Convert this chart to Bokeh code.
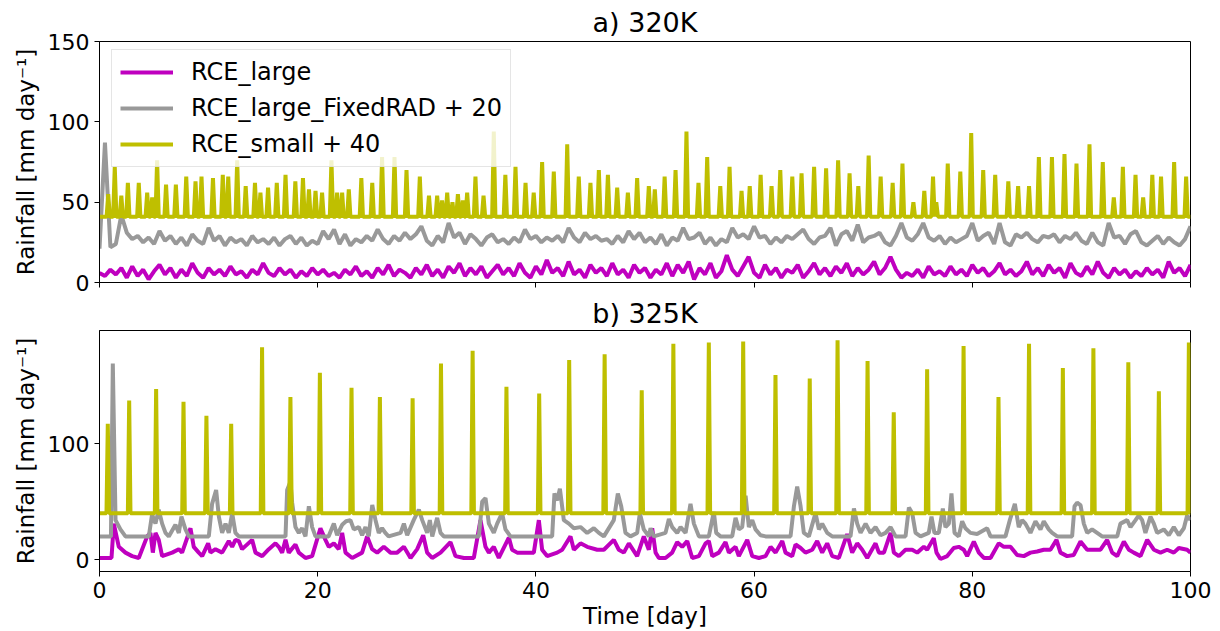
from bokeh.plotting import figure
from bokeh.layouts import column
from bokeh.models import Range1d, FixedTicker, Legend, LegendItem
from bokeh.embed import file_html
from bokeh.resources import INLINE

FONT = "DejaVu Sans"
MAGENTA = "#bf00bf"
GRAY = "#999999"
OLIVE = "#bfbf00"

# ---------------- panel a) 320K ----------------
# RCE_large, sampled every 0.5 day from day 0 to 100
large_a_step = 0.5
large_a = [
    6, 4, 8, 5, 9, 3, 10, 4, 8, 2,
    7, 11, 5, 9, 3, 8, 4, 12, 6, 3,
    9, 5, 8, 4, 10, 5, 7, 3, 8, 5,
    12, 6, 4, 9, 5, 8, 3, 7, 4, 9,
    5, 8, 4, 6, 3, 8, 5, 10, 4, 7,
    3, 9, 5, 11, 4, 8, 6, 3, 9, 5,
    11, 4, 8, 3, 10, 6, 12, 4, 9, 5,
    10, 3, 7, 11, 5, 9, 4, 12, 6, 3,
    10, 5, 14, 6, 9, 4, 13, 5, 8, 3,
    11, 6, 9, 4, 12, 5, 8, 3, 11, 6,
    9, 3, 8, 5, 12, 4, 11, 6, 13, 2,
    9, 5, 12, 3, 7, 17, 8, 4, 10, 16,
    6, 3, 11, 5, 9, 3, 8, 6, 11, 3,
    7, 12, 5, 9, 4, 10, 6, 12, 4, 9,
    5, 8, 13, 5, 9, 16, 8, 3, 6, 4,
    8, 3, 10, 5, 7, 4, 10, 5, 8, 4,
    11, 6, 9, 4, 7, 12, 5, 8, 4, 7,
    13, 5, 9, 4, 11, 6, 9, 3, 12, 6,
    4, 10, 5, 13, 6, 3, 9, 5, 8, 3,
    7, 4, 9, 5, 8, 3, 13, 6, 9, 4,
    11,
]
# RCE_large_FixedRAD + 20, sampled every 0.5 day
fixed_a = [
    21, 87, 22, 24, 42, 31, 27, 29, 25, 28,
    24, 32, 26, 29, 24, 28, 23, 30, 26, 24,
    34, 26, 29, 23, 28, 25, 27, 23, 29, 25,
    27, 24, 28, 23, 27, 29, 24, 28, 23, 26,
    24, 32, 27, 33, 24, 30, 23, 27, 25, 29,
    26, 33, 27, 24, 29, 26, 31, 27, 30, 35,
    26, 23, 29, 25, 37, 28, 31, 24, 30, 27,
    23, 28, 30, 25, 27, 24, 28, 25, 33, 27,
    29, 25, 28, 26, 29, 25, 34, 28, 25, 31,
    27, 29, 26, 27, 24, 29, 25, 32, 27, 31,
    25, 28, 24, 30, 23, 28, 26, 34, 27, 28,
    31, 24, 28, 23, 27, 25, 34, 28, 30, 27,
    35, 28, 29, 24, 28, 25, 29, 27, 30, 33,
    27, 24, 28, 29, 34, 23, 30, 32, 26, 36,
    25, 28, 29, 31, 25, 23, 29, 37, 28, 26,
    30, 37, 28, 26, 29, 24, 28, 25, 27, 29,
    37, 26, 29, 31, 24, 37, 25, 23, 30, 28,
    31, 27, 25, 29, 28, 30, 25, 29, 27, 31,
    26, 24, 31, 25, 23, 37, 28, 29, 24, 30,
    32, 25, 23, 26, 29, 24, 28, 25, 23, 27,
    35,
]
# RCE_small + 40: quiet level and the rain bursts (day, peak)
small_a_base = 41
small_a_day = [
    0.8, 1.4, 2.0, 2.6, 3.6, 4.37, 4.83, 5.28, 6.1, 7.0, 7.95, 8.8, 9.35, 10.4,
    11.3, 11.8, 12.62, 13.4, 14.25, 14.75, 15.45, 16.25, 17.05, 17.95, 18.65,
    19.2, 19.8, 20.4, 21.26, 21.78, 22.24, 22.85, 24.0, 25.0, 25.9, 27.04,
    28.14, 29.36, 30.2, 30.95, 31.4, 31.87, 32.35, 32.85, 33.3, 33.7, 34.46,
    35.2, 36.14, 37.2, 38.13, 39.05, 39.8, 40.57, 41.64, 42.87, 43.93, 45.0,
    45.77, 46.6, 47.45, 48.43, 49.28, 50.35, 50.9, 51.8, 52.8, 53.8, 54.9,
    55.7, 56.9, 57.75, 58.85, 59.6, 60.6, 61.6, 62.4, 63.5, 64.35, 65.5, 66.6,
    67.7, 68.75, 69.55, 70.5, 71.6, 72.7, 73.6, 74.6, 75.6, 76.4, 76.7, 77.75,
    78.9, 79.9, 81.0, 82.1, 83.3, 84.2, 85.2, 86.1, 87.3, 88.45, 89.55, 90.74,
    91.96, 92.97, 93.8, 94.96, 95.66, 96.5, 97.3, 98.5, 99.6,
]
small_a_peak = [
    55, 72, 54, 62, 62, 56, 53, 76, 61, 61, 66, 63, 66, 65,
    67, 66, 76, 60, 62, 56, 59, 62, 67, 63, 65,
    58, 57, 56, 76, 56, 56, 58, 65, 62, 78, 78,
    70, 66, 54, 54, 51, 56, 50, 55, 51, 56, 66,
    54, 94, 67, 72, 62, 56, 75, 69, 86, 66, 62,
    70, 67, 59, 56, 65, 60, 58, 66, 70, 94, 62,
    78, 60, 72, 57, 60, 67, 60, 70, 66, 68, 72, 71,
    76, 68, 60, 79, 66, 62, 74, 50, 57, 66, 50, 74,
    69, 93, 70, 67, 63, 60, 60, 78, 78, 80, 74, 86,
    75, 53, 72, 67, 53, 67, 66, 75, 66,
]

# ---------------- panel b) 325K ----------------
# RCE_large (day, value) turning points
large_b_day = [
    0, 1.1, 1.31, 1.77, 2.38, 2.99, 3.6, 4.37, 4.67, 4.89,
    5.13, 5.43, 5.74, 6.66, 7.27, 7.57, 8.34, 8.64, 9.1, 9.41,
    9.96, 10.17, 10.63, 11.24, 11.85, 12.16, 12.46, 12.77, 13.07, 13.99,
    14.3, 14.91, 15.52, 16.13, 16.43, 16.74, 17.05, 17.35, 17.96, 18.27,
    18.88, 19.49, 20.25, 20.71, 21.02, 21.48, 21.93, 22.24, 22.55, 23.16,
    24.07, 24.53, 24.99,
    25.45, 26.06, 26.67, 27.28, 27.9, 28.51, 29.12, 29.67, 30.03, 30.49,
    31.26, 32.17, 32.63, 33.4, 34.31, 34.92, 35.38, 35.69, 36.14, 36.6,
    37.52, 37.82, 38.28, 38.89, 39.81, 40.27, 40.57, 41.03, 41.95, 42.41,
    43.17, 43.48, 44.09, 44.7, 45.62, 46.23, 47.14, 47.6, 48.06, 48.52,
    49.28, 49.89, 50.35,
    50.66, 50.97, 51.27, 51.88, 52.49, 52.95, 53.41, 53.87, 54.33, 54.94,
    55.55, 55.85, 56.16, 56.77, 57.38, 57.69, 58.3, 58.6, 59.37, 59.83,
    60.44, 61.05, 61.51, 61.97, 62.58, 62.88, 63.49, 63.8, 64.26, 64.71,
    65.33, 65.78, 66.24, 66.7, 67.16, 67.77, 68.53, 68.99, 69.45, 69.91,
    70.37, 71.13, 71.44, 71.9, 72.51, 72.81, 73.27, 73.88, 74.49, 74.95,
    75.56,
    75.86, 76.47, 76.72, 77.08, 77.7, 78.3, 78.76, 79.22, 79.53, 80.14,
    80.6, 81.06, 81.67, 82.43, 82.89, 83.5, 84.11, 84.72, 85.33, 85.94,
    86.55, 87.16, 87.72, 88.08, 88.69, 89.3, 89.92, 90.53, 91.14, 91.75,
    92.36, 92.82, 93.28, 93.89, 94.35, 94.8, 95.42, 96.03, 96.64, 97.25,
    97.86, 98.47, 98.93, 99.69, 100,
]
large_b_val = [
    1.4, 1.4, 31, 11, 6, 3, 1.4, 20, 23, 6,
    23, 17, 3, 6, 9, 6, 27, 11, 6, 3,
    14, 6, 9, 6, 16, 11, 17, 16, 9, 17,
    6, 3, 9, 14, 11, 6, 17, 6, 13, 6,
    1.4, 3, 27, 17, 11, 14, 9, 23, 6, 1.4,
    6, 20, 9,
    6, 11, 6, 6, 11, 1.4, 9, 21, 6, 1.4,
    6, 15, 3, 1.4, 1.4, 34, 11, 6, 11, 1.4,
    19, 8.5, 6, 6, 6, 34, 8.5, 3, 6, 8.5,
    20, 8.5, 14, 11, 8.5, 8.5, 17, 8.5, 6, 14,
    3, 20, 8.5,
    27, 6, 1.4, 1.4, 6, 15, 11, 16, 1.4, 3,
    14, 16, 3, 6, 15, 6, 11, 3, 17, 3,
    1.4, 3, 11, 6, 16, 6, 3, 13, 10, 6,
    8.5, 16, 6, 14, 3, 1.4, 22, 6, 14, 8.5,
    1.4, 14, 6, 6, 23, 6, 3, 8.5, 8.5, 6,
    11,
    8.5, 18.5, 6, 0.5, 3, 10, 11, 8.5, 3, 15.6,
    6, 1.4, 1.4, 14, 11, 11, 4, 3, 6, 7,
    8.5, 8.5, 17, 6, 3, 4, 15.6, 8.5, 8.5, 8.5,
    17, 6, 3, 15.6, 8.5, 6, 3, 17, 8.5, 6,
    8.5, 6, 10, 8.5, 6,
]
# RCE_large_FixedRAD + 20 (day, value) turning points
fixed_b_day = [
    0, 1.05, 1.22, 1.47, 1.92, 2.38, 4.52, 4.82, 5.13, 5.43,
    5.74, 6.05, 6.35, 6.96, 7.27, 7.51, 7.88, 8.19, 10.02, 10.32,
    10.69, 10.94, 11.24, 11.55, 11.85, 12.16, 12.46, 12.77, 17.05, 17.2,
    17.5, 17.66, 17.96, 18.27, 18.57, 18.88, 19.19, 19.49, 19.8, 21.0,
    21.48, 21.78, 22.24, 22.6, 23.0, 23.31, 23.77, 24.07, 24.38, 24.68,
    25.0, 25.3, 25.6, 25.9, 26.2, 26.5, 27.6, 27.9, 28.2, 28.8,
    29.27, 29.58, 30.03, 30.28, 30.5, 30.95, 31.26, 31.56, 34.77, 35.08,
    35.38, 35.69, 36.14, 36.45, 36.9, 37.21, 37.67, 41.49, 41.7, 41.95,
    42.2, 42.56, 43.02, 43.48, 44.09, 44.7, 45.31, 45.77, 46.23, 47.14,
    47.51, 47.82, 48.21, 48.67, 49.28, 49.53, 49.89, 50.35,
    50.51, 50.81, 51.88, 52.19, 52.49, 52.95, 53.26, 53.72, 54.17, 54.48,
    54.94, 55.85, 56.31, 56.53, 56.92, 57.99, 58.3, 58.6, 58.91, 59.22,
    59.52, 59.83, 60.13, 60.59, 61.05, 63.34, 63.65, 63.95, 64.26, 64.56,
    65.02, 65.63, 65.94, 66.24, 66.7, 67.16, 68.84, 69.15, 69.45, 69.76,
    70.22, 70.67, 71.13, 71.59, 72.05, 72.51, 72.97, 73.88, 74.19, 74.49,
    74.8, 75.26,
    76.01, 76.26, 76.53, 76.93, 77.3, 77.54, 77.85, 78.09, 78.37, 78.76,
    79.07, 79.37, 79.83, 80.44, 81.36, 81.67, 83.04, 83.44, 83.9, 84.26,
    84.57, 84.87, 85.33, 85.79, 86.25, 86.55, 87.01, 87.32, 87.78, 89.15,
    89.37, 89.61, 89.92, 90.22, 90.53, 90.98, 91.44, 91.9, 93.28, 93.58,
    94.19, 94.5, 94.96, 95.26, 95.57, 95.87, 96.33, 96.64, 96.94, 97.55,
    98.01, 98.47, 98.93, 99.39, 99.69, 100.0,
]
fixed_b_val = [
    20, 20, 169, 34, 26, 20, 20, 39, 31, 43,
    31, 23, 20, 30, 23, 37, 26, 20, 20, 48,
    60, 37, 23, 31, 23, 40, 23, 20, 20, 60,
    67, 49, 28, 23, 27, 20, 46, 28, 20, 20,
    31, 21, 30, 33, 34, 26, 28, 21, 28, 20,
    47, 34, 23, 27, 23, 20, 23, 31, 21, 34,
    43, 34, 23, 34, 20, 36, 23, 20, 20, 50,
    53, 31, 23, 31, 40, 26, 20, 20, 57, 51,
    61, 34, 31, 27, 28, 23, 27, 23, 20, 34,
    57, 46, 23, 20, 23, 40, 26, 20,
    27, 20, 23, 35, 28, 23, 28, 23, 48, 31,
    20, 20, 41, 23, 20, 20, 36, 26, 28, 55,
    28, 34, 26, 21, 20, 20, 46, 63, 46, 23,
    20, 40, 26, 31, 23, 20, 20, 44, 31, 23,
    31, 23, 28, 21, 23, 28, 20, 20, 45, 40,
    23, 20,
    23, 37, 23, 23, 44, 28, 31, 57, 23, 20,
    33, 27, 23, 22, 27, 20, 20, 34, 48, 28,
    34, 31, 23, 33, 26, 33, 26, 23, 20, 20,
    46, 49, 47, 31, 23, 26, 23, 20, 20, 31,
    34, 28, 34, 38, 34, 23, 37, 31, 23, 26,
    21, 28, 21, 27, 38, 34,
]
# RCE_small + 40: quiet level and the rain bursts (day, peak)
small_b_base = 40
small_b_day = [
    0.76, 2.72, 5.19, 7.7, 9.8, 12.07, 14.9, 17.5, 20.2, 23.1, 25.7, 28.7,
    31.3, 34.2, 37.3, 40.3, 43.05, 46.3, 49.7, 52.6, 55.85, 59.0, 61.96,
    65.1, 67.65, 70.4, 72.8, 75.86, 79.2, 82.4, 85.2, 88.3, 91.1, 94.3,
    97.1, 99.85,
]
small_b_peak = [
    117, 137, 147, 136, 124, 117, 183, 140, 161, 148, 140, 139,
    169, 180, 149, 143, 172, 177, 146, 186, 187, 188, 159,
    156, 189, 171, 127, 164, 184, 140, 186, 165, 182, 170,
    145, 187,
]

X_TICKS = [0, 20, 40, 60, 80, 100]
YLABEL = "Rainfall [mm day\u207b\u00b9]"


def burst_path(days, peaks, base, half):
    xs, ys = [0.0], [base]
    for d, h in zip(days, peaks):
        xs += [d - half, d, d + half]
        ys += [base, h, base]
    xs.append(100.0)
    ys.append(base)
    return xs, ys


def grid_days(vals, step):
    return [i * step for i in range(len(vals))]


def panel(title, yr, yticks, height, top, bottom, title_standoff):
    p = figure(width=1220, height=height, x_range=Range1d(0, 100),
               y_range=Range1d(*yr), output_backend="svg",
               toolbar_location=None, title=title,
               min_border_left=99, min_border_right=30,
               min_border_top=top, min_border_bottom=bottom)
    p.title.text_font = FONT
    p.title.text_font_size = "27px"
    p.title.text_font_style = "normal"
    p.title.text_color = "black"
    p.title.align = "center"
    p.title.standoff = title_standoff
    p.grid.visible = False
    p.outline_line_color = "black"
    p.outline_line_alpha = 1
    p.outline_line_width = 1
    p.background_fill_color = "white"
    p.border_fill_color = "white"
    for ax in (p.xaxis[0], p.yaxis[0]):
        ax.axis_line_color = "black"
        ax.major_tick_line_color = "black"
        ax.major_tick_in = 0
        ax.major_tick_out = 5
        ax.minor_tick_line_color = None
        ax.major_label_text_font = FONT
        ax.major_label_text_font_size = "22px"
        ax.major_label_text_color = "black"
        ax.major_label_standoff = 5
        ax.axis_label_text_font = FONT
        ax.axis_label_text_font_size = "23px"
        ax.axis_label_text_font_style = "normal"
        ax.axis_label_text_color = "black"
    p.xaxis.ticker = FixedTicker(ticks=X_TICKS)
    p.yaxis.ticker = FixedTicker(ticks=yticks)
    p.yaxis.axis_label = YLABEL
    p.yaxis.axis_label_standoff = 6
    return p


# ----- top panel -----
p1 = panel("a) 320K", (0, 150), [0, 50, 100, 150], 294, 40, 12, 8)
p1.xaxis.major_label_overrides = {t: "" for t in X_TICKS}
p1.xaxis.major_label_text_font_size = "0px"
p1.xaxis.major_label_standoff = 0
r1m = p1.line(grid_days(large_a, large_a_step), large_a, color=MAGENTA, line_width=4)
r1g = p1.line(grid_days(fixed_a, large_a_step), fixed_a, color=GRAY, line_width=4)
xa, ya = burst_path(small_a_day, small_a_peak, small_a_base, 0.15)
r1y = p1.line(xa, ya, color=OLIVE, line_width=4)

legend = Legend(items=[
    LegendItem(label="RCE_large", renderers=[r1m]),
    LegendItem(label="RCE_large_FixedRAD + 20", renderers=[r1g]),
    LegendItem(label="RCE_small + 40", renderers=[r1y]),
], location=(12, 115))
legend.label_text_font = FONT
legend.label_text_font_size = "24px"
legend.label_text_color = "black"
legend.glyph_width = 53
legend.glyph_height = 26
legend.label_height = 26
legend.label_standoff = 18
legend.padding = 8
legend.spacing = 8
legend.margin = 0
legend.border_line_color = "#cccccc"
legend.border_line_width = 1
legend.background_fill_color = "white"
legend.background_fill_alpha = 0.8
p1.add_layout(legend)

# ----- bottom panel -----
p2 = panel("b) 325K", (-10.26, 197.4), [0, 100, 200], 337, 35, 59, 3)
p2.xaxis.axis_label = "Time [day]"
p2.xaxis.axis_label_standoff = 2
p2.line(large_b_day, large_b_val, color=MAGENTA, line_width=4)
p2.line(fixed_b_day, fixed_b_val, color=GRAY, line_width=4)
xb, yb = burst_path(small_b_day, small_b_peak, small_b_base, 0.12)
p2.line(xb, yb, color=OLIVE, line_width=4)

layout = column(p1, p2, spacing=0)
open("out.html", "w").write(file_html(layout, INLINE))
